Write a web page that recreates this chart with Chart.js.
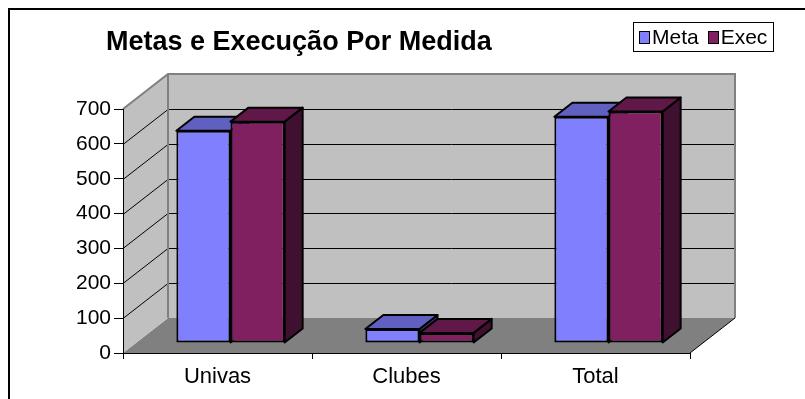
<!DOCTYPE html>
<html>
<head>
<meta charset="utf-8">
<title>Metas e Execução Por Medida</title>
<script src="https://cdn.jsdelivr.net/npm/chart.js@4"></script>
<style>
    body { margin: 0; background: #fff; }
    #wrap { position: relative; width: 805px; height: 399px; overflow: hidden; font-family: 'Liberation Sans', Arial, sans-serif; color: #000; }
    #chart { position: absolute; left: 0; top: 0; }
    #frame { position: absolute; left: 8px; top: 8px; width: 900px; height: 500px; border-left: 2px solid #000; border-top: 2px solid #000; pointer-events: none; }
    #title { position: absolute; left: 106px; top: 26px; font-size: 27px; font-weight: bold; white-space: nowrap; }
    #legend { position: absolute; left: 633px; top: 22px; width: 139px; height: 28px; border: 1px solid #000; background: #fff; font-size: 21px; display: flex; align-items: center; white-space: nowrap; }
    #legend .item { display: flex; align-items: center; margin-left: 5px; }
    #legend .item + .item { margin-left: 9px; }
    #legend .swatch { width: 9px; height: 11px; border: 1px solid #000; margin-right: 2px; }
</style>
</head>
<body>
<div id="wrap">
    <canvas id="chart" width="805" height="399"></canvas>
    <div id="frame"></div>
    <div id="title">Metas e Execução Por Medida</div>
    <div id="legend"></div>
</div>
<script>
// Goals vs. execution per measure
const categories = ['Univas', 'Clubes', 'Total'];
const metaValues = [609, 40, 649];
const execValues = [635, 29, 664];
const seriesNames = ['Meta', 'Exec'];

// 3D look: wall depth, where the bars sit on the floor, and bar depth
const DEPTH_X = 45, DEPTH_Y = -35;
const SHIFT_X = 13, SHIFT_Y = -10;
const BAR_DX = 18, BAR_DY = -14;

function poly(ctx, pts) {
    ctx.beginPath();
    pts.forEach((p, i) => i ? ctx.lineTo(p[0], p[1]) : ctx.moveTo(p[0], p[1]));
    ctx.closePath();
}

const walls3d = {
    id: 'walls3d',
    beforeDraw(chart) {
        const { ctx, chartArea: a, scales: { y } } = chart;
        const L = a.left, R = a.right, T = a.top, B = a.bottom;
        ctx.save();
        // floor
        ctx.fillStyle = '#808080';
        poly(ctx, [[L, B], [R, B], [R + DEPTH_X, B + DEPTH_Y], [L + DEPTH_X, B + DEPTH_Y]]);
        ctx.fill();
        // side wall + back wall
        ctx.fillStyle = '#c0c0c0';
        poly(ctx, [[L, T], [L + DEPTH_X, T + DEPTH_Y], [L + DEPTH_X, B + DEPTH_Y], [L, B]]);
        ctx.fill();
        ctx.fillRect(L + DEPTH_X, T + DEPTH_Y, R - L, B - T);
        // gridlines running along both walls
        ctx.strokeStyle = '#000';
        ctx.lineWidth = 1;
        y.ticks.forEach(t => {
            if (t.value <= y.min || t.value >= y.max) return;
            const py = Math.round(y.getPixelForValue(t.value)) + 0.5;
            ctx.beginPath();
            ctx.moveTo(L, py);
            ctx.lineTo(L + DEPTH_X, py + DEPTH_Y);
            ctx.lineTo(R + DEPTH_X, py + DEPTH_Y);
            ctx.stroke();
        });
        // wall edges
        ctx.strokeStyle = '#808080';
        ctx.lineWidth = 2;
        ctx.beginPath();
        ctx.moveTo(L, T);
        ctx.lineTo(L + DEPTH_X, T + DEPTH_Y);
        ctx.lineTo(R + DEPTH_X, T + DEPTH_Y);
        ctx.lineTo(R + DEPTH_X, B + DEPTH_Y);
        ctx.moveTo(L + DEPTH_X, T + DEPTH_Y);
        ctx.lineTo(L + DEPTH_X, B + DEPTH_Y);
        ctx.stroke();
        // floor right edge
        ctx.strokeStyle = '#000';
        ctx.lineWidth = 1;
        ctx.beginPath();
        ctx.moveTo(R, B);
        ctx.lineTo(R + DEPTH_X, B + DEPTH_Y);
        ctx.stroke();
        ctx.restore();
    },
    beforeDatasetsDraw(chart) {
        const ctx = chart.ctx;
        ctx.save();
        ctx.translate(SHIFT_X, SHIFT_Y);
        // top and side faces first, the library draws the front faces over them
        chart.data.datasets.forEach((ds, i) => {
            chart.getDatasetMeta(i).data.forEach(bar => {
                const { x, y, base, width } = bar.getProps(['x', 'y', 'base', 'width'], true);
                const x0 = x - width / 2, x1 = x + width / 2;
                ctx.lineWidth = 2;
                ctx.strokeStyle = '#000';
                ctx.lineJoin = 'round';
                ctx.fillStyle = ds.sideColor;
                poly(ctx, [[x1, y], [x1 + BAR_DX, y + BAR_DY], [x1 + BAR_DX, base + BAR_DY], [x1, base]]);
                ctx.fill(); ctx.stroke();
                ctx.fillStyle = ds.topColor;
                poly(ctx, [[x0, y], [x0 + BAR_DX, y + BAR_DY], [x1 + BAR_DX, y + BAR_DY], [x1, y]]);
                ctx.fill(); ctx.stroke();
            });
        });
    },
    afterDatasetsDraw(chart) {
        chart.ctx.restore();
    }
};

const tickFont = { family: "'Liberation Sans', Arial, sans-serif" };

new Chart(document.getElementById('chart'), {
    type: 'bar',
    data: {
        labels: categories,
        datasets: [
            { label: seriesNames[0], data: metaValues, backgroundColor: '#8080ff', topColor: '#6060c0', sideColor: '#404080' },
            { label: seriesNames[1], data: execValues, backgroundColor: '#802060', topColor: '#601848', sideColor: '#401030' }
        ].map(d => Object.assign(d, { borderColor: '#000', borderWidth: 2, borderSkipped: false, clip: false }))
    },
    options: {
        responsive: false,
        animation: false,
        events: [],
        devicePixelRatio: 1,
        layout: { padding: { top: 109, right: 115, left: 0, bottom: 0 } },
        datasets: { bar: { barPercentage: 1, categoryPercentage: 0.573 } },
        plugins: { legend: { display: false }, title: { display: false }, tooltip: { enabled: false } },
        scales: {
            x: {
                afterFit: s => { s.height = 46; },
                grid: { drawOnChartArea: false, drawTicks: true, tickLength: 6, color: '#000' },
                border: { display: true, color: '#000', width: 1 },
                ticks: { color: '#000', font: Object.assign({ size: 22 }, tickFont), padding: 5 }
            },
            y: {
                min: 0, max: 700,
                afterFit: s => { s.width = 123; },
                grid: { drawOnChartArea: false, drawTicks: true, tickLength: 9, color: '#000' },
                border: { display: true, color: '#000', width: 1 },
                ticks: { stepSize: 100, color: '#000', font: Object.assign({ size: 21 }, tickFont), padding: 3 }
            }
        }
    },
    plugins: [walls3d]
});

// legend
const colors = ['#8080ff', '#802060'];
document.getElementById('legend').innerHTML = seriesNames.map((n, i) =>
    `<div class="item"><div class="swatch" style="background:${colors[i]}"></div><span>${n}</span></div>`
).join('');
</script>
</body>
</html>
